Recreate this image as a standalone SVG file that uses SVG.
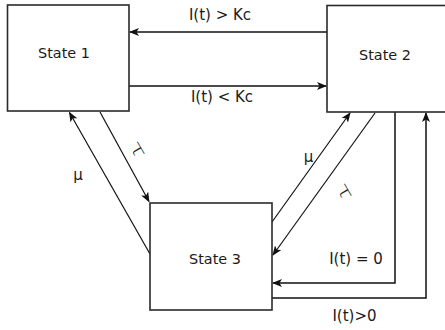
<svg xmlns="http://www.w3.org/2000/svg" width="445" height="330" viewBox="0 0 445 330">
  <style>
    .box { fill: #ffffff; stroke: #2a2a2a; stroke-width: 1.6; }
    .name { font-family: "DejaVu Sans", "Liberation Sans", sans-serif; font-size: 14.4px; fill: #1a1a1a; text-anchor: middle; }
    .lbl { font-family: "DejaVu Sans", "Liberation Sans", sans-serif; font-size: 15px; fill: #1a1a1a; text-anchor: middle; }
    .tau { font-size: 18px; font-weight: 200; }
    .edge { fill: none; stroke: #111111; stroke-width: 1.2; marker-end: url(#head); }
    .edge.h { stroke-width: 1.5; }
  </style>
  <defs>
    <marker id="head" markerUnits="userSpaceOnUse" markerWidth="10" markerHeight="8" refX="9" refY="4" orient="auto">
      <path d="M0,0 L10,4 L0,8 L2.5,4 Z" fill="#111111"/>
    </marker>
  </defs>
  <rect width="445" height="330" fill="#ffffff"/>

  <g id="connectors">
    <!-- State 2 -> State 1 -->
    <path class="edge h" d="M327,32 H130"/>
    <!-- State 1 -> State 2 -->
    <path class="edge h" d="M129,86 H326"/>
    <!-- State 3 -> State 1 (mu) -->
    <path class="edge" d="M150,254 L69.5,112.5"/>
    <!-- State 1 -> State 3 (tau) -->
    <path class="edge" d="M100,112 L149,201.5"/>
    <!-- State 3 -> State 2 (mu) -->
    <path class="edge" d="M272,222 L350,113"/>
    <!-- State 2 -> State 3 (tau) -->
    <path class="edge" d="M375,113 L273,255"/>
    <!-- State 2 -> State 3, I(t) = 0 -->
    <path class="edge h" d="M395,112 V283 H273"/>
    <!-- State 3 -> State 2, I(t) > 0 -->
    <path class="edge h" d="M272,298 H426 V113"/>

    <text class="lbl" x="220" y="20">I(t) &gt; Kc</text>
    <text class="lbl" x="222" y="102">I(t) &lt; Kc</text>
    <text class="lbl" x="78" y="180">μ</text>
    <text class="lbl" x="308.5" y="162">μ</text>
    <text class="lbl tau" transform="translate(137,150) rotate(60) scale(1.6,1)" x="0" y="5">τ</text>
    <text class="lbl tau" transform="translate(344,192) rotate(60) scale(1.6,1)" x="0" y="5">τ</text>
    <text class="lbl" x="356" y="264">I(t) = 0</text>
    <text class="lbl" x="354.5" y="321">I(t)&gt;0</text>
  </g>

  <g id="state1">
    <rect class="box" x="7.5" y="5" width="121.5" height="106"/>
    <text class="name" x="64" y="58">State 1</text>
  </g>
  <g id="state2">
    <rect class="box" x="327" y="5.5" width="124" height="106.5"/>
    <text class="name" x="385" y="60">State 2</text>
  </g>
  <g id="state3">
    <rect class="box" x="150" y="203" width="122" height="107"/>
    <text class="name" x="215" y="264">State 3</text>
  </g>
</svg>
